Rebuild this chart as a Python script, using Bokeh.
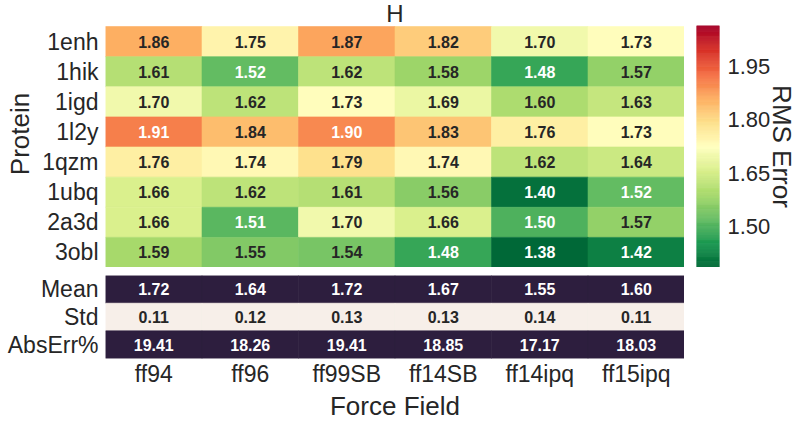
import numpy as np
from bokeh.plotting import figure
from bokeh.layouts import row, column
from bokeh.models import (Range1d, FactorRange, FixedTicker, ColumnDataSource,
                          LinearColorMapper, PrintfTickFormatter)
from bokeh.core.properties import value
from bokeh.embed import file_html
from bokeh.resources import INLINE

# ---------------- data ----------------
title_text = "H"
proteins = ["1enh", "1hik", "1igd", "1l2y", "1qzm", "1ubq", "2a3d", "3obl"]
fields = ["ff94", "ff96", "ff99SB", "ff14SB", "ff14ipq", "ff15ipq"]
rms_1enh = [1.86, 1.75, 1.87, 1.82, 1.70, 1.73]
rms_1hik = [1.61, 1.52, 1.62, 1.58, 1.48, 1.57]
rms_1igd = [1.70, 1.62, 1.73, 1.69, 1.60, 1.63]
rms_1l2y = [1.91, 1.84, 1.90, 1.83, 1.76, 1.73]
rms_1qzm = [1.76, 1.74, 1.79, 1.74, 1.62, 1.64]
rms_1ubq = [1.66, 1.62, 1.61, 1.56, 1.40, 1.52]
rms_2a3d = [1.66, 1.51, 1.70, 1.66, 1.50, 1.57]
rms_3obl = [1.59, 1.55, 1.54, 1.48, 1.38, 1.42]
rms_rows = [rms_1enh, rms_1hik, rms_1igd, rms_1l2y, rms_1qzm, rms_1ubq, rms_2a3d, rms_3obl]
stat_names = ["Mean", "Std", "AbsErr%"]
mean_vals = [1.72, 1.64, 1.72, 1.67, 1.55, 1.60]
std_vals = [0.11, 0.12, 0.13, 0.13, 0.14, 0.11]
abserr_vals = [19.41, 18.26, 19.41, 18.85, 17.17, 18.03]
stat_rows = [mean_vals, std_vals, abserr_vals]
cbar_ticks = [1.50, 1.65, 1.80, 1.95]
VMIN, VMAX = 1.385, 2.065

# ---------------- style ----------------
FONT = "Liberation Sans"
TXT = "#262626"
anchors = ["#006837", "#1a9850", "#66bd63", "#a6d96a", "#d9ef8b", "#ffffbf",
           "#fee08b", "#fdae61", "#f46d43", "#d73027", "#a50026"]
stat_fill = ["#2d1e3e", "#f7efe9", "#2d1e3e"]
stat_text = ["#ffffff", TXT, "#ffffff"]


def hex2rgb(h):
    return np.array([int(h[i:i + 2], 16) for i in (1, 3, 5)], dtype=float)


def build_palette(n=256):
    a = np.array([hex2rgb(c) for c in anchors])
    pos = np.linspace(0, 1, len(anchors))
    xs = np.linspace(0, 1, n)
    out = []
    for x in xs:
        rgb = [np.interp(x, pos, a[:, k]) for k in range(3)]
        out.append("#%02x%02x%02x" % tuple(int(round(v)) for v in rgb))
    return out


palette = build_palette(256)
mapper = LinearColorMapper(palette=palette, low=VMIN, high=VMAX)


def text_color_for(v):
    t = (v - VMIN) / (VMAX - VMIN)
    idx = int(np.clip(np.floor(t * len(palette)), 0, len(palette) - 1))
    rgb = hex2rgb(palette[idx]) / 255.0
    lin = np.where(rgb <= 0.03928, rgb / 12.92, ((rgb + 0.055) / 1.055) ** 2.4)
    lum = lin.dot([0.2126, 0.7152, 0.0722])
    return TXT if lum > 0.408 else "#ffffff"


# ---------------- heatmap figure ----------------
xs, ys, vs, labs, tcs = [], [], [], [], []
for i, rowvals in enumerate(rms_rows):
    for j, v in enumerate(rowvals):
        xs.append(fields[j])
        ys.append(i + 0.5)
        vs.append(v)
        labs.append("%.2f" % v)
        tcs.append(text_color_for(v))
src = ColumnDataSource(dict(x=xs, y=ys, v=vs, lab=labs, tc=tcs))

ptop = figure(width=684, height=267, x_range=FactorRange(factors=fields),
              y_range=Range1d(len(proteins), -0.864), x_axis_location=None,
              output_backend="svg", toolbar_location=None,
              min_border_left=105, min_border_right=0, min_border_top=0, min_border_bottom=0)
ptop.rect(x="x", y="y", width=1, height=1, source=src,
          fill_color={"field": "v", "transform": mapper},
          line_color={"field": "v", "transform": mapper}, line_width=0.6)
ptop.text(x="x", y="y", text="lab", text_color="tc", source=src,
          text_align="center", text_baseline="middle",
          text_font=value(FONT), text_font_style="bold", text_font_size="16px")
ptop.text(x=[len(fields) / 2], y=[-0.43], text=[title_text], text_align="center",
          text_baseline="alphabetic", text_font=value(FONT), text_font_size="24px",
          text_color=TXT)

ya = ptop.yaxis[0]
ya.ticker = FixedTicker(ticks=[i + 0.5 for i in range(len(proteins))])
ya.major_label_overrides = {i + 0.5: p for i, p in enumerate(proteins)}
ya.axis_label = "Protein"

# ---------------- stats table figure ----------------
sx, sy, sv, sf, st = [], [], [], [], []
for i, rowvals in enumerate(stat_rows):
    for j, v in enumerate(rowvals):
        sx.append(fields[j])
        sy.append(i + 0.5)
        sv.append("%.2f" % v)
        sf.append(stat_fill[i])
        st.append(stat_text[i])
ssrc = ColumnDataSource(dict(x=sx, y=sy, lab=sv, fc=sf, tc=st))

pbot = figure(width=684, height=156, x_range=ptop.x_range,
              y_range=Range1d(len(stat_names), 0),
              output_backend="svg", toolbar_location=None,
              min_border_left=105, min_border_right=0, min_border_top=8, min_border_bottom=57)
pbot.rect(x="x", y="y", width=1, height=1, source=ssrc, fill_color="fc",
          line_color="fc", line_width=0.6)
pbot.text(x="x", y="y", text="lab", text_color="tc", source=ssrc,
          text_align="center", text_baseline="middle",
          text_font=value(FONT), text_font_style="bold", text_font_size="16px")
yb = pbot.yaxis[0]
yb.ticker = FixedTicker(ticks=[i + 0.5 for i in range(len(stat_names))])
yb.major_label_overrides = {i + 0.5: s for i, s in enumerate(stat_names)}
xb = pbot.xaxis[0]
xb.axis_label = "Force Field"

# ---------------- colorbar figure ----------------
edges = np.linspace(VMIN, VMAX, len(palette) + 1)
pcb = figure(width=116, height=267, x_range=Range1d(0, 1), y_range=Range1d(VMIN, VMAX),
             x_axis_location=None, y_axis_location="right",
             output_backend="svg", toolbar_location=None,
             min_border_left=12, min_border_right=80, min_border_top=25, min_border_bottom=0)
pcb.quad(left=0, right=1, bottom=edges[:-1], top=edges[1:], fill_color=palette,
         line_color=palette, line_width=0.6)
yc = pcb.yaxis[0]
yc.ticker = FixedTicker(ticks=cbar_ticks)
yc.formatter = PrintfTickFormatter(format="%.2f")
yc.axis_label = "RMS Error"

# ---------------- common styling ----------------
for fig in (ptop, pbot, pcb):
    fig.grid.visible = False
    fig.outline_line_color = None
    fig.background_fill_color = "white"
    fig.border_fill_color = "white"
    for ax in fig.axis:
        ax.axis_line_color = None
        ax.major_tick_line_color = None
        ax.minor_tick_line_color = None
        ax.major_tick_out = 0
        ax.major_tick_in = 0
        ax.minor_tick_out = 0
        ax.minor_tick_in = 0
        ax.major_label_text_font = FONT
        ax.major_label_text_font_size = "23px"
        ax.major_label_text_color = TXT
        ax.axis_label_text_font = FONT
        ax.axis_label_text_font_size = "26px"
        ax.axis_label_text_font_style = "normal"
        ax.axis_label_text_color = TXT
        ax.axis_label_text_line_height = 1.0
ya.major_label_standoff = 7
ya.axis_label_standoff = 4
yb.major_label_standoff = 7
xb.major_label_standoff = 2
xb.axis_label_standoff = 1
yc.major_label_text_font_size = "22px"
yc.major_label_standoff = 8
yc.axis_label_standoff = -6

layout = row(column(ptop, pbot), pcb)
open("out.html", "w").write(file_html(layout, INLINE))
